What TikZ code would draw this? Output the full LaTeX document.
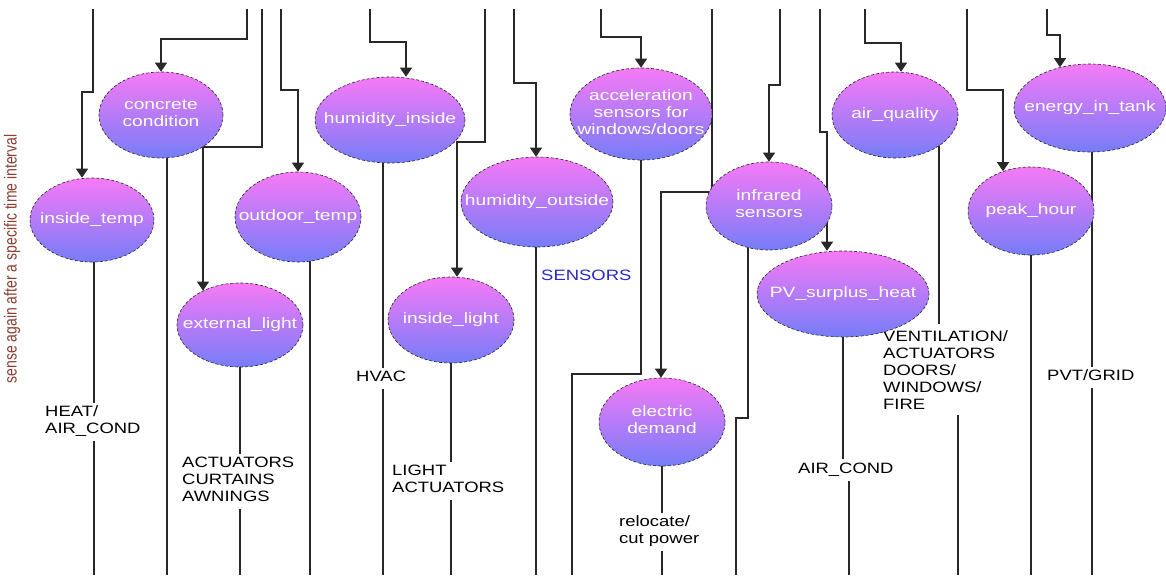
\documentclass[tikz,border=0pt]{standalone}
\usepackage{fontspec}
\setmainfont{Liberation Sans}
\usepackage{graphicx}
\usetikzlibrary{shapes.geometric,arrows.meta}
\pgfdeclarelayer{bg}
\pgfsetlayers{bg,main}
\definecolor{ellTop}{RGB}{246,122,246}
\definecolor{ellBot}{RGB}{118,124,248}
\definecolor{senseCol}{RGB}{140,62,50}
\definecolor{sensBlue}{RGB}{40,40,205}
\definecolor{wireCol}{RGB}{40,40,40}
\newcommand\etext[1]{\scalebox{1.28}[1]{\begin{tabular}{@{}c@{}}#1\end{tabular}}}
\newcommand\ltext[1]{\scalebox{1.23}[1]{\begin{tabular}{@{}l@{}}#1\end{tabular}}}
\begin{document}
\begin{tikzpicture}[x=1pt,y=-1pt,
  ell/.style={ellipse, draw=black!85, line width=0.6pt, densely dashed, top color=ellTop, bottom color=ellBot, inner sep=0pt},
  etxt/.style={text=white, font=\fontsize{15}{17}\selectfont, inner sep=0pt},
  lbl/.style={fill=white, inner sep=2pt, anchor=west, font=\fontsize{15}{17}\selectfont, text=black},
  wire/.style={line width=1.1pt, draw=wireCol},
  arr/.style={wire, -{Triangle[width=12pt,length=9pt]}}]
\useasboundingbox (0,0) rectangle (1166,575);

% labels (white boxes break the lines)
\node[lbl] (heat) at (43,421.5) {\ltext{HEAT/\\AIR\_COND}};
\node[lbl] (curt) at (180,481.5) {\ltext{ACTUATORS\\CURTAINS\\AWNINGS}};
\node[lbl] (hvac) at (354,378.5) {\ltext{HVAC}};
\node[lbl] (lact) at (390,481) {\ltext{LIGHT\\ACTUATORS}};
\node[lbl, text=sensBlue] (sens) at (539,277.5) {\ltext{SENSORS}};
\node[lbl] (relo) at (617,531.5) {\ltext{relocate/\\cut power}};
\node[lbl] (acl) at (796,470) {\ltext{AIR\_COND}};
\node[lbl, fill=none] (vent) at (881,372) {\ltext{VENTILATION/\\ACTUATORS\\DOORS/\\WINDOWS/\\FIRE}};
\node[lbl] (pvt) at (1045,377) {\ltext{PVT/GRID}};
\node[rotate=90, text=senseCol, font=\fontsize{14}{16}\selectfont, inner sep=0pt] (sense) at (12,259)
  {\scalebox{1}[1.25]{sense again after a specific time interval}};

% ellipses
\node[ell, minimum width=124pt, minimum height=84pt, label={[etxt]center:{\etext{inside\_temp}}}] (it) at (92,220) {};
\node[ell, minimum width=124pt, minimum height=86pt, label={[etxt]center:{\etext{concrete\\condition}}}] (cc) at (161,115) {};
\node[ell, minimum width=126pt, minimum height=90pt, label={[etxt]center:{\etext{outdoor\_temp}}}] (ot) at (298,217) {};
\node[ell, minimum width=126pt, minimum height=84pt, label={[etxt]center:{\etext{external\_light}}}] (el) at (240,325) {};
\node[ell, minimum width=150pt, minimum height=86pt, label={[etxt]center:{\etext{humidity\_inside}}}] (hi) at (390,120) {};
\node[ell, minimum width=126pt, minimum height=86pt, label={[etxt]center:{\etext{inside\_light}}}] (il) at (451,320) {};
\node[ell, minimum width=152pt, minimum height=90pt, label={[etxt]center:{\etext{humidity\_outside}}}] (ho) at (537,202) {};
\node[ell, minimum width=142pt, minimum height=92pt, label={[etxt]center:{\etext{acceleration\\sensors for\\windows/doors}}}] (ac) at (641,114) {};
\node[ell, minimum width=126pt, minimum height=88pt, label={[etxt]center:{\etext{infrared\\sensors}}}] (ir) at (769,206) {};
\node[ell, minimum width=126pt, minimum height=88pt, label={[etxt]center:{\etext{electric\\demand}}}] (ed) at (662,422) {};
\node[ell, minimum width=172pt, minimum height=86pt, label={[etxt]center:{\etext{PV\_surplus\_heat}}}] (pv) at (843,294) {};
\node[ell, minimum width=126pt, minimum height=86pt, label={[etxt]center:{\etext{air\_quality}}}] (aq) at (895,115) {};
\node[ell, minimum width=126pt, minimum height=88pt, label={[etxt]center:{\etext{peak\_hour}}}] (ph) at (1031,211) {};
\node[ell, minimum width=152pt, minimum height=88pt, label={[etxt]center:{\etext{energy\_in\_tank}}}] (et) at (1090,108) {};

% coordinates
\coordinate (s1) at (93,9);    \coordinate (j1) at (82,92);
\coordinate (s2) at (247,9);   \coordinate (j2) at (161,39);
\coordinate (s3) at (262,9);   \coordinate (j3) at (203,147);
\coordinate (s4) at (281,9);   \coordinate (j4) at (298,90);
\coordinate (s5) at (370,9);   \coordinate (j5) at (406,42);
\coordinate (s6) at (485,9);   \coordinate (j6) at (457,142);
\coordinate (s7) at (514,9);   \coordinate (j7) at (536,83);
\coordinate (s8) at (601,9);   \coordinate (j8) at (641,37);
\coordinate (s9) at (712,9);   \coordinate (j9) at (661,192);
\coordinate (s10) at (780,9);  \coordinate (j10) at (769,85);
\coordinate (s11) at (820,9);  \coordinate (j11) at (827,132);
\coordinate (s12) at (865,9);  \coordinate (j12) at (901,43);
\coordinate (s13) at (967,9);  \coordinate (j13) at (1003,90);
\coordinate (s14) at (1047,9); \coordinate (j14) at (1060,35);

\coordinate (b1) at (94,575);
\coordinate (b2) at (167,575);
\coordinate (b3) at (310,575);
\coordinate (b4) at (240,575);
\coordinate (b5) at (383,575);
\coordinate (b6) at (451,575);
\coordinate (b7) at (536,575);
\coordinate (k8) at (641,374);  \coordinate (b8) at (572,575);
\coordinate (k9) at (748,418);  \coordinate (b9) at (736,575);
\coordinate (b10) at (662,575);
\coordinate (b11) at (849,575);
\coordinate (k12) at (939,324); \coordinate (u12) at (958,415); \coordinate (b12) at (958,575);
\coordinate (b13) at (1031,575);
\coordinate (b14) at (1092,575);

\begin{pgfonlayer}{bg}
\fill[white] (0,0) rectangle (1166,575);
% incoming connectors
\draw[arr] (s1) |- (j1) -- (j1 |- it.north);
\draw[arr] (s2) |- (j2) -- (j2 |- cc.north);
\draw[arr] (s3) |- (j3) -- (j3 |- el.137);
\draw[arr] (s4) |- (j4) -- (j4 |- ot.north);
\draw[arr] (s5) |- (j5) -- (j5 |- hi.north);
\draw[arr] (s6) |- (j6) -- (j6 |- il.north);
\draw[arr] (s7) |- (j7) -- (j7 |- ho.north);
\draw[arr] (s8) |- (j8) -- (j8 |- ac.north);
\draw[arr] (s9) |- (j9) -- (j9 |- ed.north);
\draw[arr] (s10) |- (j10) -- (j10 |- ir.north);
\draw[arr] (s11) |- (j11) -- (j11 |- pv.north);
\draw[arr] (s12) |- (j12) -- (j12 |- aq.north);
\draw[arr] (s13) |- (j13) -- (j13 |- ph.125.4);
\draw[arr] (s14) |- (j14) -- (j14 |- et.126.6);
% outgoing connectors
\draw[wire] (b1 |- it.center) -- (b1);
\draw[wire] (b2 |- cc.center) -- (b2);
\draw[wire] (b3 |- ot.center) -- (b3);
\draw[wire] (b4 |- el.center) -- (b4);
\draw[wire] (b5 |- hi.center) -- (b5);
\draw[wire] (b6 |- il.center) -- (b6);
\draw[wire] (b7 |- ho.center) -- (b7);
\draw[wire] (k8 |- ac.center) -- (k8) -| (b8);
\draw[wire] (k9 |- ir.center) -- (k9) -| (b9);
\draw[wire] (b10 |- ed.center) -- (b10);
\draw[wire] (pv.center) -- (pv.center |- acl.north);
\draw[wire] (b11 |- acl.south) -- (b11);
\draw[wire] (k12 |- aq.center) -- (k12);
\draw[wire] (u12) -- (b12);
\draw[wire] (b13 |- ph.center) -- (b13);
\draw[wire] (b14 |- et.center) -- (b14);
\end{pgfonlayer}
\end{tikzpicture}
\end{document}
